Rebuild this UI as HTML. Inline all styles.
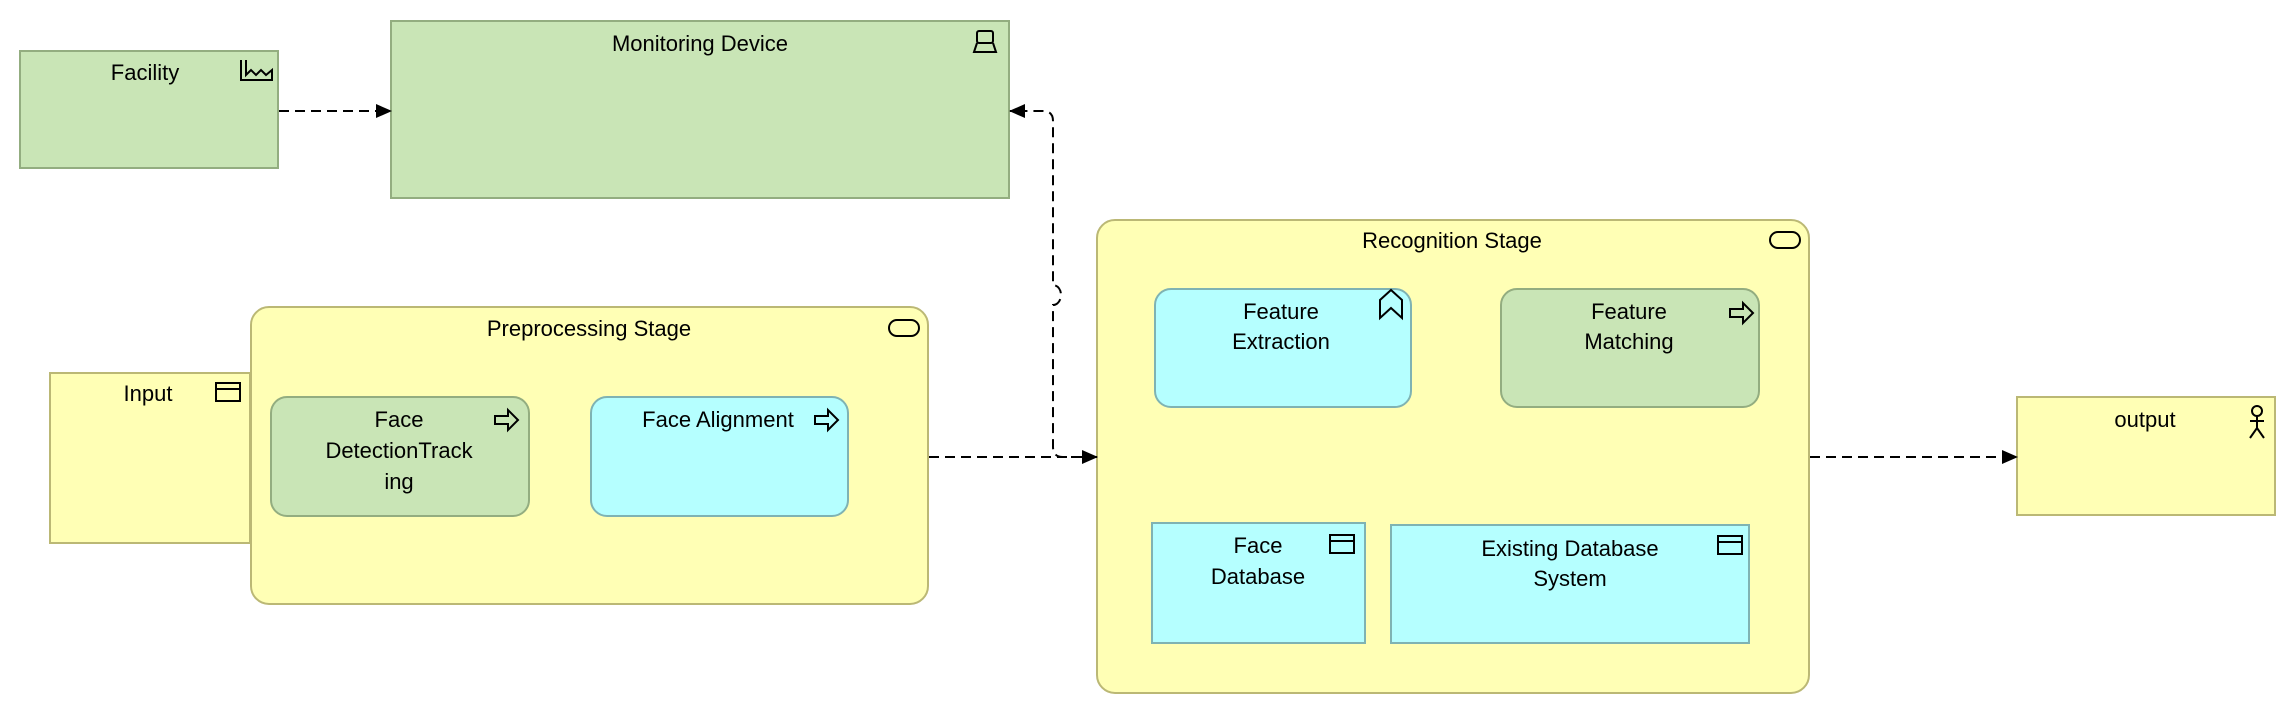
<!DOCTYPE html>
<html><head><meta charset="utf-8"><style>html,body{margin:0;padding:0;background:#fff}svg{display:block}text{font-family:"Liberation Sans",sans-serif;font-size:22px;fill:#000;text-anchor:middle}</style></head><body>
<svg width="2296" height="714" viewBox="0 0 2296 714" xmlns="http://www.w3.org/2000/svg">
<defs><marker id="a" markerWidth="16" markerHeight="16" refX="15" refY="8" orient="auto" markerUnits="userSpaceOnUse"><path d="M0,1 L16,8 L0,15 z" fill="#000"/></marker></defs>
<g stroke-width="2">
<rect x="20" y="51" width="258" height="117" fill="#c9e5b6" stroke="#93ad80"/>
<rect x="391" y="21" width="618" height="177" fill="#c9e5b6" stroke="#93ad80"/>
<rect x="50" y="373" width="200" height="170" fill="#ffffb5" stroke="#bbb875"/>
<rect x="251" y="307" width="677" height="297" rx="18" fill="#ffffb5" stroke="#bbb875"/>
<rect x="271" y="397" width="258" height="119" rx="16" fill="#c9e5b6" stroke="#93ad80"/>
<rect x="591" y="397" width="257" height="119" rx="16" fill="#b5ffff" stroke="#7fb3b3"/>
<rect x="1097" y="220" width="712" height="473" rx="18" fill="#ffffb5" stroke="#bbb875"/>
<rect x="1155" y="289" width="256" height="118" rx="16" fill="#b5ffff" stroke="#7fb3b3"/>
<rect x="1501" y="289" width="258" height="118" rx="16" fill="#c9e5b6" stroke="#93ad80"/>
<rect x="1152" y="523" width="213" height="120" fill="#b5ffff" stroke="#7fb3b3"/>
<rect x="1391" y="525" width="358" height="118" fill="#b5ffff" stroke="#7fb3b3"/>
<rect x="2017" y="397" width="258" height="118" fill="#ffffb5" stroke="#bbb875"/>
</g>
<g fill="none" stroke="#000" stroke-width="2" stroke-dasharray="10,6">
<path d="M279,111 L391,111" marker-end="url(#a)"/>
<path d="M929,457 L1097,457" marker-end="url(#a)"/>
<path d="M1810,457 L2017,457" marker-end="url(#a)"/>
<path d="M1097,457 L1063,457 Q1053,457 1053,447 L1053,305 A8,10 0 0 0 1053,285 L1053,121 Q1053,111 1043,111 L1010,111" marker-end="url(#a)"/>
</g>
<g fill="none" stroke="#000" stroke-width="2">
<path d="M241,60 V80 H272 V70 L266,75 L261,70 L256,75 L251,70 L246,75 V60"/>
<rect x="977" y="31" width="16" height="12" rx="2"/><path d="M977,43 L974,52 H996 L993,43"/>
<rect x="889" y="320" width="30" height="16" rx="8"/>
<rect x="1770" y="232" width="30" height="16" rx="8"/>
<rect x="216" y="383" width="24" height="18"/><path d="M216,389 H240"/>
<rect x="1330" y="535" width="24" height="18"/><path d="M1330,541 H1354"/>
<rect x="1718" y="536" width="24" height="18"/><path d="M1718,542 H1742"/>
<path d="M495,416 H508 V410 L518,420 L508,430 V424 H495 Z"/>
<path d="M815,416 H828 V410 L838,420 L828,430 V424 H815 Z"/>
<path d="M1730,309 H1743 V303 L1753,313 L1743,323 V317 H1730 Z"/>
<path d="M1380,318 L1380,300 L1391,290 L1402,300 L1402,318 L1391,308 Z"/>
<circle cx="2257" cy="411" r="5"/><path d="M2257,416 V428 M2250,421 H2264 M2250,438 L2257,428 L2264,438"/>
</g>
<text x="145" y="80">Facility</text>
<text x="700" y="51">Monitoring Device</text>
<text x="148" y="401">Input</text>
<text x="589" y="336">Preprocessing Stage</text>
<text x="399" y="427">Face</text>
<text x="399" y="458">DetectionTrack</text>
<text x="399" y="489">ing</text>
<text x="718" y="427">Face Alignment</text>
<text x="1452" y="248">Recognition Stage</text>
<text x="1281" y="319">Feature</text>
<text x="1281" y="349">Extraction</text>
<text x="1629" y="319">Feature</text>
<text x="1629" y="349">Matching</text>
<text x="1258" y="553">Face</text>
<text x="1258" y="584">Database</text>
<text x="1570" y="556">Existing Database</text>
<text x="1570" y="586">System</text>
<text x="2145" y="427">output</text>
</svg>
</body></html>
